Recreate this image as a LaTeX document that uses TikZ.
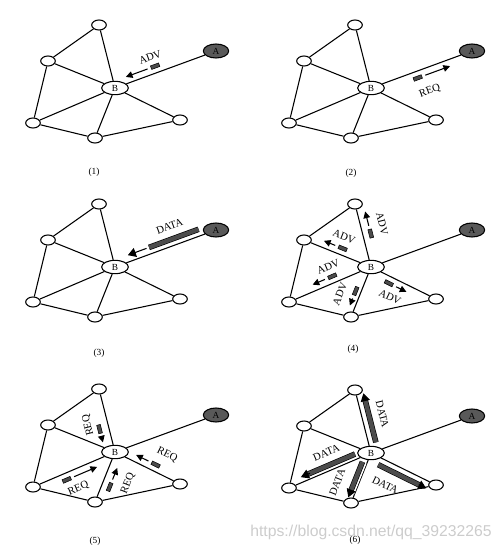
\documentclass[tikz,border=0pt]{standalone}
\usepackage{fontspec}
\setmainfont{Liberation Serif}
\newfontfamily\markfont{Liberation Sans}
\usetikzlibrary{positioning}
\usetikzlibrary{arrows.meta}
\usetikzlibrary{calc,shapes}

% one panel of the network: five relays, B and the source A
\newcommand{\network}[2]{%
\begin{scope}[shift={#2}]
\node[relay] (t#1) at (-16,-63) {};
\node[relay] (l#1) at (-67,-27) {};
\node[relay] (bl#1) at (-82,35) {};
\node[relay] (bm#1) at (-20,50) {};
\node[relay] (r#1) at (65,32) {};
\node[peer] (B#1) at (0,0) {B};
\node[source] (A#1) at (101,-37) {A};
\draw[link] (t#1) -- (l#1) -- (bl#1) -- (bm#1) -- (r#1) -- (B#1);
\draw[link] (t#1) -- (B#1) (l#1) -- (B#1) (bl#1) -- (B#1) (bm#1) -- (B#1) (B#1) -- (A#1);
\end{scope}}

% small packet with arrow beside the edge #1--#2
\newcommand{\msg}[7]{%
\draw[msgline] ($(#1)!#3!(#2)!#5!90:(#2)$) -- ($(#1)!#4!(#2)!#5!90:(#2)$)
  node[pos=0, sloped, packet] {}
  node[sloped, tag, #7] {#6};}

% long data packet beside the edge #1--#2
\newcommand{\datamsg}[7]{%
\draw[databar] ($(#1)!#3!(#2)!#6!90:(#2)$) -- ($(#1)!#4!(#2)!#6!90:(#2)$)
  node[sloped, tag, #7] {DATA};
\draw[datatip] ($(#1)!#4!(#2)!#6!90:(#2)$) -- ($(#1)!#5!(#2)!#6!90:(#2)$);}

\begin{document}
\begin{tikzpicture}[x=0.75pt,y=-0.75pt,
  relay/.style={ellipse, draw, fill=white, line width=0.8pt, minimum width=11pt, minimum height=7.5pt, inner sep=0pt},
  peer/.style={ellipse, draw, fill=white, line width=0.8pt, minimum width=20pt, minimum height=10pt, inner sep=0pt, font=\fontsize{7}{8}\selectfont},
  source/.style={ellipse, draw, fill=black!65, line width=0.8pt, minimum width=19pt, minimum height=10.5pt, inner sep=0pt, font=\fontsize{7}{8}\selectfont},
  link/.style={line width=0.8pt},
  packet/.style={rectangle, draw, fill=black!70, line width=0.4pt, minimum width=6.5pt, minimum height=2.8pt, inner sep=0pt},
  msgline/.style={line width=0.8pt, shorten <=6pt, -{Triangle[length=5pt,width=5pt]}},
  databar/.style={draw=black, line width=0.5pt, double=black!70, double distance=3.2pt, preaction={draw=white, line width=6.5pt}},
  datatip/.style={line width=0.8pt, shorten <=2pt, -{Triangle[length=6pt,width=7pt]}},
  tag/.style={inner sep=1pt, font=\fontsize{8}{9}\selectfont},
  caption/.style={font=\fontsize{7}{8}\selectfont},
  watermark/.style={text=black!20, font=\markfont\fontsize{11.8}{13}\selectfont}]
\useasboundingbox (0,0) rectangle (502,552);

% (1) A advertises
\network{1}{(115,88)}
\msg{B1}{A1}{.42}{.13}{5pt}{ADV}{pos=.05, above=3.5pt}
\node[caption] (c1) at (94,172) {(1)};

% (2) B requests
\network{2}{(371,88)}
\msg{B2}{A2}{.44}{.76}{-5pt}{REQ}{pos=.2, below=7.5pt}
\node[caption] (c2) at (351,173) {(2)};

% (3) A sends data
\network{3}{(115,267)}
\datamsg{B3}{A3}{.85}{.36}{.15}{5pt}{pos=.5, above=5.5pt}
\node[caption] (c3) at (99,353) {(3)};

% (4) B advertises
\network{4}{(371,267)}
\msg{B4}{t4}{.5}{.85}{-6pt}{ADV}{pos=.3, above=6pt}
\msg{B4}{l4}{.46}{.74}{-5pt}{ADV}{pos=.15, above=4.5pt}
\msg{B4}{bl4}{.44}{.68}{-5pt}{ADV}{pos=0, above=3.7pt}
\msg{B4}{bm4}{.52}{.81}{-4pt}{ADV}{pos=.55, above=6pt}
\msg{B4}{r4}{.32}{.59}{-5pt}{ADV}{pos=.37, below=4.9pt}
\node[caption] (c4) at (353,349) {(4)};

% (5) neighbours request
\network{5}{(115,452)}
\msg{B5}{t5}{.4}{.19}{7pt}{}{pos=0}
\node[tag, rotate=104] (q5) at ($(B5)!.5!(t5)!14.5pt!90:(t5)$) {REQ};
\msg{B5}{bl5}{.62}{.25}{5pt}{REQ}{pos=.22, below=4.8pt}
\msg{B5}{bm5}{.64}{.26}{6pt}{REQ}{pos=.5, below=7pt}
\msg{B5}{r5}{.58}{.28}{5pt}{REQ}{pos=-.27, above=6pt}
\node[caption] (c5) at (95,541) {(5)};

% (6) B forwards data
\network{6}{(371,453)}
\datamsg{B6}{t6}{.14}{.8}{.92}{-5.5pt}{pos=.6, above=6pt}
\datamsg{B6}{bl6}{.17}{.75}{.83}{-4pt}{pos=.5, above=5.5pt}
\datamsg{B6}{bm6}{.21}{.83}{.92}{-3.5pt}{pos=.85, above=8pt}
\datamsg{B6}{r6}{.16}{.82}{.9}{-5.5pt}{pos=.32, below=7.5pt}
\node[caption] (c6) at (355,540) {(6)};

\node[watermark] (wm) at (371,532) {https://blog.csdn.net/qq\_39232265};
\end{tikzpicture}
\end{document}
